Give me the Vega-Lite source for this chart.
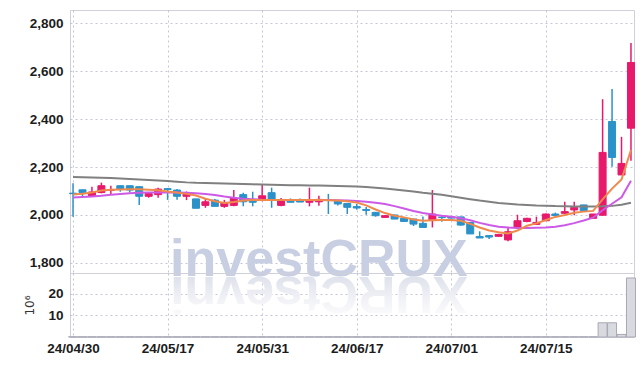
{
  "$schema": "https://vega.github.io/schema/vega-lite/v6.json",
  "autosize": {"type": "pad"},
  "padding": {"left": 5, "top": 9, "right": 9, "bottom": 5},
  "bounds": "flush",
  "spacing": 0,
  "config": {
    "font": "Liberation Sans, Arial, sans-serif",
    "view": {"stroke": "#cfd0da", "strokeWidth": 1},
    "axis": {
      "domain": false,
      "ticks": false,
      "gridColor": "#c4c6d8",
      "gridDash": [2, 3],
      "gridWidth": 1,
      "labelFont": "Liberation Sans, Arial, sans-serif",
      "labelFontWeight": "bold",
      "labelFontSize": 13.5,
      "labelColor": "#1c1c1c",
      "labelPadding": 7
    }
  },
  "datasets": {
    "px": [
      {"d": "24/04/30", "o": 2091, "h": 2132, "l": 1993, "c": 2089, "m5": 2085, "m10": 2073, "m60": 2158, "v": 0.1},
      {"d": "24/05/02", "o": 2105, "h": 2106, "l": 2073, "c": 2094, "m5": 2089, "m10": 2075, "m60": 2157, "v": 0.1},
      {"d": "24/05/03", "o": 2080, "h": 2118, "l": 2076, "c": 2096, "m5": 2094, "m10": 2077, "m60": 2156, "v": 0.1},
      {"d": "24/05/07", "o": 2094, "h": 2135, "l": 2090, "c": 2122, "m5": 2102, "m10": 2080, "m60": 2155, "v": 0.1},
      {"d": "24/05/08", "o": 2103, "h": 2122, "l": 2085, "c": 2106, "m5": 2105, "m10": 2084, "m60": 2154, "v": 0.1},
      {"d": "24/05/09", "o": 2122, "h": 2123, "l": 2097, "c": 2108, "m5": 2106, "m10": 2088, "m60": 2152, "v": 0.1},
      {"d": "24/05/10", "o": 2122, "h": 2123, "l": 2094, "c": 2104, "m5": 2107, "m10": 2091, "m60": 2150, "v": 0.1},
      {"d": "24/05/13", "o": 2118, "h": 2119, "l": 2042, "c": 2078, "m5": 2107, "m10": 2093, "m60": 2148, "v": 0.1},
      {"d": "24/05/14", "o": 2078, "h": 2093, "l": 2072, "c": 2090, "m5": 2105, "m10": 2094, "m60": 2146, "v": 0.1},
      {"d": "24/05/16", "o": 2085, "h": 2114, "l": 2072, "c": 2108, "m5": 2103, "m10": 2094, "m60": 2144, "v": 0.1},
      {"d": "24/05/17", "o": 2110, "h": 2112, "l": 2063, "c": 2106, "m5": 2098, "m10": 2094, "m60": 2142, "v": 0.1},
      {"d": "24/05/20", "o": 2104, "h": 2108, "l": 2064, "c": 2078, "m5": 2094, "m10": 2094, "m60": 2139, "v": 0.1},
      {"d": "24/05/21", "o": 2078, "h": 2098, "l": 2062, "c": 2088, "m5": 2088, "m10": 2093, "m60": 2136, "v": 0.1},
      {"d": "24/05/22", "o": 2067, "h": 2068, "l": 2028, "c": 2028, "m5": 2081, "m10": 2091, "m60": 2134, "v": 0.1},
      {"d": "24/05/23", "o": 2040, "h": 2067, "l": 2030, "c": 2055, "m5": 2068, "m10": 2088, "m60": 2133, "v": 0.1},
      {"d": "24/05/24", "o": 2062, "h": 2067, "l": 2036, "c": 2036, "m5": 2057, "m10": 2083, "m60": 2132, "v": 0.1},
      {"d": "24/05/27", "o": 2036, "h": 2063, "l": 2030, "c": 2050, "m5": 2050, "m10": 2077, "m60": 2131, "v": 0.1},
      {"d": "24/05/28", "o": 2040, "h": 2104, "l": 2036, "c": 2071, "m5": 2054, "m10": 2072, "m60": 2130, "v": 0.1},
      {"d": "24/05/29", "o": 2085, "h": 2093, "l": 2036, "c": 2055, "m5": 2060, "m10": 2068, "m60": 2129, "v": 0.1},
      {"d": "24/05/30", "o": 2062, "h": 2097, "l": 2036, "c": 2053, "m5": 2062, "m10": 2066, "m60": 2128, "v": 0.1},
      {"d": "24/05/31", "o": 2062, "h": 2129, "l": 2057, "c": 2080, "m5": 2062, "m10": 2064, "m60": 2127, "v": 0.1},
      {"d": "24/06/03", "o": 2093, "h": 2114, "l": 2030, "c": 2062, "m5": 2063, "m10": 2063, "m60": 2126, "v": 0.1},
      {"d": "24/06/04", "o": 2040, "h": 2071, "l": 2036, "c": 2060, "m5": 2063, "m10": 2062, "m60": 2125, "v": 0.1},
      {"d": "24/06/05", "o": 2062, "h": 2069, "l": 2058, "c": 2053, "m5": 2062, "m10": 2062, "m60": 2124, "v": 0.1},
      {"d": "24/06/07", "o": 2062, "h": 2069, "l": 2056, "c": 2054, "m5": 2062, "m10": 2062, "m60": 2124, "v": 0.1},
      {"d": "24/06/10", "o": 2053, "h": 2114, "l": 2036, "c": 2062, "m5": 2062, "m10": 2062, "m60": 2123, "v": 0.1},
      {"d": "24/06/11", "o": 2055, "h": 2080, "l": 2039, "c": 2065, "m5": 2062, "m10": 2062, "m60": 2123, "v": 0.1},
      {"d": "24/06/12", "o": 2063, "h": 2088, "l": 2004, "c": 2061, "m5": 2061, "m10": 2062, "m60": 2122, "v": 0.1},
      {"d": "24/06/13", "o": 2060, "h": 2061, "l": 2040, "c": 2046, "m5": 2060, "m10": 2061, "m60": 2121, "v": 0.1},
      {"d": "24/06/14", "o": 2048, "h": 2050, "l": 2004, "c": 2032, "m5": 2057, "m10": 2060, "m60": 2120, "v": 0.1},
      {"d": "24/06/17", "o": 2035, "h": 2046, "l": 2022, "c": 2029, "m5": 2052, "m10": 2058, "m60": 2119, "v": 0.1},
      {"d": "24/06/18", "o": 2023, "h": 2033, "l": 2001, "c": 2019, "m5": 2040, "m10": 2055, "m60": 2117, "v": 0.1},
      {"d": "24/06/19", "o": 2011, "h": 2012, "l": 1993, "c": 1997, "m5": 2023, "m10": 2051, "m60": 2114, "v": 0.1},
      {"d": "24/06/20", "o": 1990, "h": 2000, "l": 1990, "c": 1997, "m5": 2008, "m10": 2046, "m60": 2110, "v": 0.1},
      {"d": "24/06/21", "o": 2000, "h": 2001, "l": 1983, "c": 1983, "m5": 1997, "m10": 2037, "m60": 2106, "v": 0.1},
      {"d": "24/06/24", "o": 1986, "h": 1990, "l": 1973, "c": 1973, "m5": 1990, "m10": 2027, "m60": 2102, "v": 0.1},
      {"d": "24/06/25", "o": 1983, "h": 1984, "l": 1954, "c": 1962, "m5": 1981, "m10": 2017, "m60": 2098, "v": 0.1},
      {"d": "24/06/26", "o": 1965, "h": 1994, "l": 1948, "c": 1948, "m5": 1976, "m10": 2008, "m60": 2093, "v": 0.1},
      {"d": "24/06/27", "o": 1980, "h": 2104, "l": 1948, "c": 2004, "m5": 1978, "m10": 2002, "m60": 2089, "v": 0.1},
      {"d": "24/06/28", "o": 1991, "h": 1998, "l": 1972, "c": 1989, "m5": 1979, "m10": 1997, "m60": 2084, "v": 0.1},
      {"d": "24/07/01", "o": 1992, "h": 1994, "l": 1985, "c": 1987, "m5": 1979, "m10": 1993, "m60": 2078, "v": 0.1},
      {"d": "24/07/02", "o": 1992, "h": 1993, "l": 1955, "c": 1958, "m5": 1976, "m10": 1986, "m60": 2072, "v": 0.1},
      {"d": "24/07/03", "o": 1969, "h": 1970, "l": 1921, "c": 1921, "m5": 1963, "m10": 1978, "m60": 2066, "v": 0.1},
      {"d": "24/07/04", "o": 1910, "h": 1932, "l": 1904, "c": 1904, "m5": 1948, "m10": 1967, "m60": 2060, "v": 0.1},
      {"d": "24/07/05", "o": 1914, "h": 1915, "l": 1900, "c": 1908, "m5": 1935, "m10": 1958, "m60": 2055, "v": 0.1},
      {"d": "24/07/08", "o": 1911, "h": 1921, "l": 1910, "c": 1919, "m5": 1928, "m10": 1951, "m60": 2050, "v": 0.1},
      {"d": "24/07/09", "o": 1896, "h": 1948, "l": 1890, "c": 1930, "m5": 1923, "m10": 1948, "m60": 2047, "v": 0.1},
      {"d": "24/07/10", "o": 1948, "h": 2001, "l": 1941, "c": 1976, "m5": 1935, "m10": 1946, "m60": 2044, "v": 0.1},
      {"d": "24/07/11", "o": 1973, "h": 1988, "l": 1970, "c": 1986, "m5": 1955, "m10": 1946, "m60": 2042, "v": 0.1},
      {"d": "24/07/12", "o": 1961, "h": 1993, "l": 1960, "c": 1969, "m5": 1965, "m10": 1947, "m60": 2040, "v": 0.1},
      {"d": "24/07/15", "o": 1976, "h": 2006, "l": 1975, "c": 2004, "m5": 1979, "m10": 1948, "m60": 2039, "v": 0.1},
      {"d": "24/07/16", "o": 2004, "h": 2010, "l": 1992, "c": 1998, "m5": 1992, "m10": 1951, "m60": 2037, "v": 0.1},
      {"d": "24/07/17", "o": 2007, "h": 2055, "l": 2004, "c": 2014, "m5": 2000, "m10": 1957, "m60": 2036, "v": 0.1},
      {"d": "24/07/18", "o": 2021, "h": 2055, "l": 1999, "c": 2032, "m5": 2009, "m10": 1966, "m60": 2035, "v": 0.1},
      {"d": "24/07/19", "o": 2042, "h": 2043, "l": 2018, "c": 2018, "m5": 2014, "m10": 1977, "m60": 2035, "v": 0.1},
      {"d": "24/07/22", "o": 1986, "h": 2004, "l": 1985, "c": 2004, "m5": 2017, "m10": 1989, "m60": 2035, "v": 0.1},
      {"d": "24/07/23", "o": 1999, "h": 2483, "l": 1997, "c": 2261, "m5": 2065, "m10": 2020, "m60": 2036, "v": 6.6},
      {"d": "24/07/24", "o": 2390, "h": 2525, "l": 2201, "c": 2240, "m5": 2110, "m10": 2047, "m60": 2038, "v": 6.6},
      {"d": "24/07/25", "o": 2167, "h": 2326, "l": 2167, "c": 2215, "m5": 2148, "m10": 2074, "m60": 2043, "v": 1.2},
      {"d": "24/07/26", "o": 2362, "h": 2717, "l": 2226, "c": 2636, "m5": 2271, "m10": 2143, "m60": 2051, "v": 27.4}
    ]
  },
  "vconcat": [
    {
      "width": 564,
      "height": 263,
      "data": {"name": "px"},
      "encoding": {
        "x": {
          "field": "d",
          "type": "ordinal",
          "scale": {"type": "point", "padding": 0.32},
          "axis": {"labels": false, "grid": true, "title": null,
                   "values": ["24/04/30", "24/05/17", "24/05/31", "24/06/17", "24/07/01", "24/07/15"]}
        }
      },
      "layer": [
        {
          "data": {"values": [{"t": "investCRUX"}]},
          "mark": {"type": "text", "align": "center", "baseline": "alphabetic", "dy": 3,
                   "font": "Liberation Sans, Arial, sans-serif",
                   "fontWeight": "bold", "fontSize": 52, "color": "#c9cfe3"},
          "encoding": {
            "x": {"datum": "24/06/11", "type": "ordinal"},
            "y": {"datum": 1758, "type": "quantitative"},
            "text": {"field": "t"}
          }
        },
        {
          "mark": {"type": "rule", "strokeWidth": 1.5},
          "encoding": {
            "y": {"field": "l", "type": "quantitative",
                  "scale": {"domain": [1758, 2855], "nice": false, "zero": false},
                  "axis": {"title": null, "format": ",.0f", "grid": true, "minExtent": 64, "maxExtent": 64,
                           "values": [1800, 2000, 2200, 2400, 2600, 2800]}},
            "y2": {"field": "h"},
            "color": {"condition": {"test": "datum.c >= datum.o", "value": "#e8196a"}, "value": "#2b92c9"}
          }
        },
        {
          "mark": {"type": "bar", "size": 7, "strokeWidth": 1},
          "encoding": {
            "y": {"field": "o", "type": "quantitative"},
            "y2": {"field": "c"},
            "color": {"condition": {"test": "datum.c >= datum.o", "value": "#e8196a"}, "value": "#2b92c9"},
            "stroke": {"condition": {"test": "datum.c >= datum.o", "value": "#e8196a"}, "value": "#2b92c9"}
          }
        },
        {
          "mark": {"type": "line", "color": "#808080", "strokeWidth": 2},
          "encoding": {"y": {"field": "m60", "type": "quantitative"}}
        },
        {
          "mark": {"type": "line", "color": "#cc5ae6", "strokeWidth": 2},
          "encoding": {"y": {"field": "m10", "type": "quantitative"}}
        },
        {
          "mark": {"type": "line", "color": "#ef8a4c", "strokeWidth": 2},
          "encoding": {"y": {"field": "m5", "type": "quantitative"}}
        }
      ]
    },
    {
      "width": 564,
      "height": 64,
      "data": {"name": "px"},
      "encoding": {
        "x": {
          "field": "d",
          "type": "ordinal",
          "scale": {"type": "point", "padding": 0.32},
          "axis": {"grid": true, "title": null, "labelAngle": 0, "labelPadding": 4,
                   "values": ["24/04/30", "24/05/17", "24/05/31", "24/06/17", "24/07/01", "24/07/15"]}
        }
      },
      "layer": [
        {
          "data": {"values": [{"t": "XURCtsevni"}]},
          "mark": {"type": "text", "align": "center", "baseline": "alphabetic", "angle": 180, "dy": -4,
                   "font": "Liberation Sans, Arial, sans-serif",
                   "fontWeight": "bold", "fontSize": 52,
                   "fill": {"gradient": "linear", "x1": 0, "y1": 0, "x2": 0, "y2": 1,
                            "stops": [{"offset": 0, "color": "#ffffff"}, {"offset": 0.4, "color": "#f2f3f7"}, {"offset": 1, "color": "#d6dae6"}]}},
          "encoding": {
            "x": {"datum": "24/06/11", "type": "ordinal"},
            "y": {"datum": 29.7, "type": "quantitative"},
            "text": {"field": "t"}
          }
        },
        {
          "mark": {"type": "bar", "size": 9, "fill": "#d9d9e0", "stroke": "#a8a8b4", "strokeWidth": 1},
          "encoding": {
            "y": {"field": "v", "type": "quantitative",
                  "scale": {"domain": [0, 29.7], "nice": false},
                  "axis": {"title": "10⁶", "titleFont": "DejaVu Sans", "titleFontWeight": "normal",
                           "titleFontSize": 12, "titleColor": "#333333", "titlePadding": 11,
                           "grid": true, "values": [10, 20]}}
          }
        }
      ]
    }
  ]
}
